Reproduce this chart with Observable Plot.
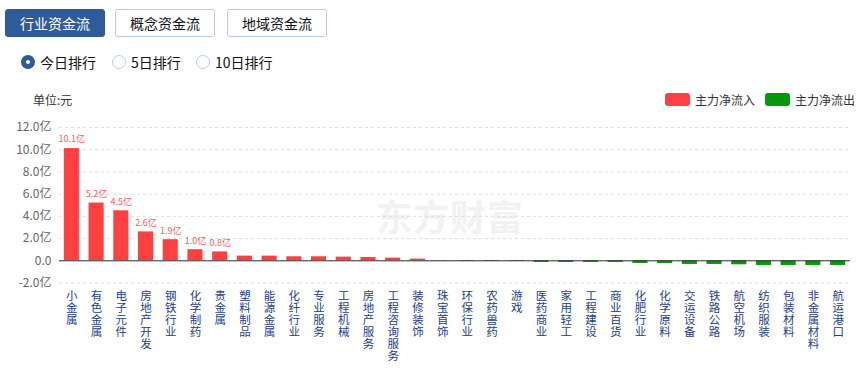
<!DOCTYPE html>
<html>
<head>
<meta charset="utf-8">
<script src="https://cdn.jsdelivr.net/npm/d3@7"></script>
<script src="https://cdn.jsdelivr.net/npm/@observablehq/plot@0.6"></script>
<style>
  html, body { margin: 0; padding: 0; background: #fff; }
  body { width: 863px; height: 368px; position: relative; overflow: hidden;
         font-family: "Noto Sans CJK SC", "Noto Sans", sans-serif; }
  .btn { position: absolute; top: 9px; height: 28px; width: 100px; box-sizing: border-box;
         border: 1px solid #b5cde6; border-radius: 3px; font-size: 14px; line-height: 26px;
         text-align: center; color: #111; background: #fff; }
  .btn.active { background: #2f5b9a; border-color: #2f5b9a; color: #fff; }
  .radio { position: absolute; top: 55px; width: 14px; height: 14px; box-sizing: border-box;
           border-radius: 50%; border: 1px solid #b8cfe6; background: #fff; }
  .radio.on { border: 5px solid #2f5b9a; }
  .rlabel { position: absolute; top: 52px; font-size: 14px; line-height: 20px; color: #111; }
  .unit { position: absolute; left: 33px; top: 91px; font-size: 12px; line-height: 18px; color: #333; }
  .leg { position: absolute; top: 93px; width: 25px; height: 13px; border-radius: 3px; }
  .legt { position: absolute; top: 91px; font-size: 12px; line-height: 17px; color: #333; }
  .wm { position: absolute; left: 376px; top: 192px; font-size: 36px; font-weight: bold;
        color: #f2f2f4; line-height: 46px; letter-spacing: 1px; }
  #chart { position: absolute; left: 0; top: 0; }
</style>
</head>
<body>
<div class="btn active" style="left:5px">行业资金流</div>
<div class="btn" style="left:115px">概念资金流</div>
<div class="btn" style="left:227px">地域资金流</div>

<div class="radio on" style="left:21px"></div><div class="rlabel" style="left:40px">今日排行</div>
<div class="radio" style="left:112px"></div><div class="rlabel" style="left:131px">5日排行</div>
<div class="radio" style="left:196px"></div><div class="rlabel" style="left:215px">10日排行</div>

<div class="wm">东方财富</div>
<div id="chart"></div>

<div class="unit">单位:元</div>
<div class="leg" style="left:665px;background:#ff4040"></div><div class="legt" style="left:695px">主力净流入</div>
<div class="leg" style="left:765px;background:#07980c"></div><div class="legt" style="left:795px">主力净流出</div>

<script>
const categories = ["小金属","有色金属","电子元件","房地产开发","钢铁行业","化学制药","贵金属","塑料制品",
  "能源金属","化纤行业","专业服务","工程机械","房地产服务","工程咨询服务","装修装饰","珠宝首饰",
  "环保行业","农药兽药","游戏","医药商业","家用轻工","工程建设","商业百货","化肥行业",
  "化学原料","交运设备","铁路公路","航空机场","纺织服装","包装材料","非金属材料","航运港口"];
const values = [10.1, 5.2, 4.5, 2.6, 1.9, 1.0, 0.8, 0.42,
  0.42, 0.36, 0.36, 0.33, 0.3, 0.24, 0.15, 0.02,
  -0.05, -0.05, -0.05, -0.15, -0.15, -0.15, -0.15, -0.24,
  -0.24, -0.33, -0.33, -0.36, -0.42, -0.42, -0.42, -0.42];
const barLabels = ["10.1亿","5.2亿","4.5亿","2.6亿","1.9亿","1.0亿","0.8亿"];
const yTicks = [-2, 0, 2, 4, 6, 8, 10, 12];

const rows = categories.map((c, i) => ({name: c, value: values[i], label: barLabels[i] || ""}));

const chart = Plot.plot({
  width: 863,
  height: 368,
  marginTop: 127,
  marginBottom: 85.5,
  marginLeft: 59,
  marginRight: 13,
  style: {fontFamily: "'Noto Sans CJK SC', sans-serif", fontSize: "12px", background: "transparent"},
  x: {type: "band", domain: categories, paddingInner: 0.39, paddingOuter: 0.195, round: false, axis: null},
  y: {domain: [-2, 12], axis: null},
  marks: [
    Plot.gridY(yTicks, {stroke: "#dcdcdc", strokeOpacity: 1, strokeDasharray: "3,3"}),
    Plot.barY(rows, {x: "name", y: "value", fill: d => d.value >= 0 ? "#ff4040" : "#07980c"}),
    Plot.text(rows.filter(d => d.label), {x: "name", y: "value", text: "label", dy: -9,
      fontSize: 9, fill: "#ff5c5c"}),
    Plot.ruleY([0], {stroke: "#333", strokeWidth: 1}),
    Plot.axisY(yTicks, {tickSize: 0, tickPadding: 8, fill: "#666", fontSize: 12,
      tickFormat: d => d === 0 ? "0.0" : d.toFixed(1) + "亿", label: null}),
    Plot.ruleX([0], {frameAnchor: "left", y1: -2, y2: 12, stroke: "#333"}),
    Plot.text(categories, {x: d => d, frameAnchor: "bottom", lineAnchor: "top", dy: 8,
      text: d => [...d].join("\n"), lineHeight: 1.05, fontSize: 11.5, fill: "#23408e"})
  ]
});
document.getElementById("chart").appendChild(chart);
</script>
</body>
</html>
